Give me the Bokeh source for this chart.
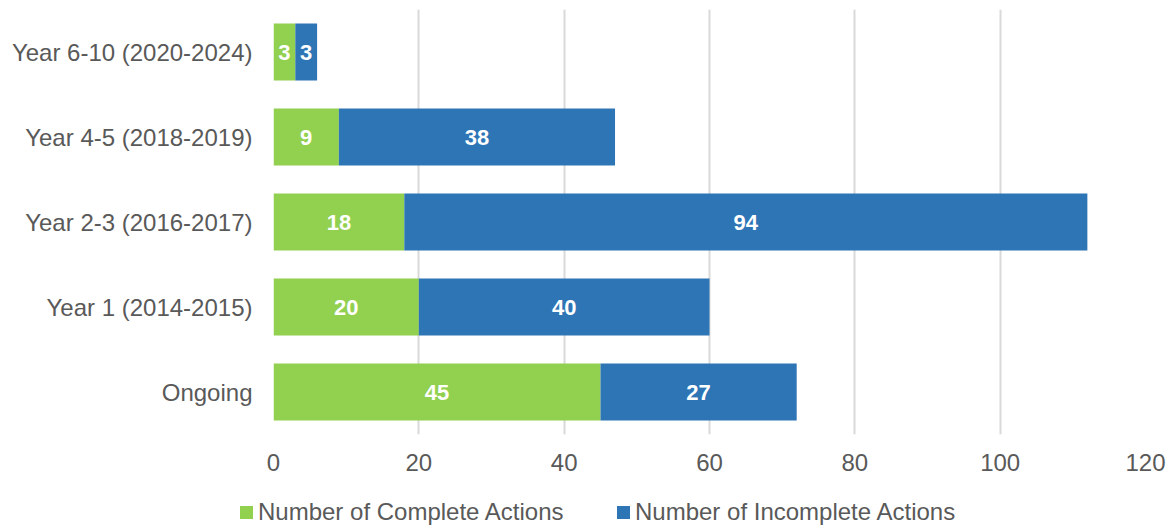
from bokeh.plotting import figure
from bokeh.layouts import column
from bokeh.models import ColumnDataSource, Range1d, FactorRange, FixedTicker, LabelSet, Div
from bokeh.core.properties import value
from bokeh.embed import file_html
from bokeh.resources import INLINE

categories = ["Ongoing", "Year 1 (2014-2015)", "Year 2-3 (2016-2017)",
              "Year 4-5 (2018-2019)", "Year 6-10 (2020-2024)"]
complete = [45, 20, 18, 9, 3]
incomplete = [27, 40, 94, 38, 3]
series_names = ["Number of Complete Actions", "Number of Incomplete Actions"]
colors = ["#92D050", "#2E75B6"]
x_ticks = [0, 20, 40, 60, 80, 100, 120]

FONT = "Liberation Sans"
GREY = "#595959"

src = ColumnDataSource(dict(
    cat=categories,
    complete=complete,
    incomplete=incomplete,
    c_mid=[c / 2 for c in complete],
    i_mid=[c + i / 2 for c, i in zip(complete, incomplete)],
    c_lbl=[str(c) for c in complete],
    i_lbl=[str(i) for i in incomplete],
))

p = figure(
    y_range=FactorRange(*categories),
    x_range=Range1d(0, 120),
    frame_width=872, frame_height=425,
    min_border_left=273, min_border_right=25, min_border_top=9, min_border_bottom=52,
    output_backend="svg", toolbar_location=None,
)
p.outline_line_color = None

renderers = p.hbar_stack(["complete", "incomplete"], y="cat", height=0.67,
                         color=colors, source=src, line_color=None)

for xcol, tcol in [("c_mid", "c_lbl"), ("i_mid", "i_lbl")]:
    lbl = LabelSet(x=xcol, y="cat", text=tcol, source=src,
                   text_align="center", text_baseline="middle",
                   text_color="white", text_font=value(FONT), text_font_style="bold",
                   text_font_size="22px")
    p.add_layout(lbl)

p.xaxis.ticker = FixedTicker(ticks=x_ticks)
p.xgrid.ticker = FixedTicker(ticks=x_ticks)
p.xgrid.grid_line_color = "#D9D9D9"
p.xgrid.grid_line_width = 2
p.ygrid.grid_line_color = None

for ax in (p.xaxis[0], p.yaxis[0]):
    ax.axis_line_color = None
    ax.major_tick_line_color = None
    ax.minor_tick_line_color = None
    ax.major_tick_out = 0
    ax.major_tick_in = 0
    ax.major_label_text_font = FONT
    ax.major_label_text_font_size = "24px"
    ax.major_label_text_color = GREY
p.yaxis.major_label_standoff = 21
p.xaxis.major_label_standoff = 19

# legend strip (HTML) below the chart
legend_left = [240, 617]
items_html = ""
for name, col, lx in zip(series_names, colors, legend_left):
    items_html += (
        f'<div style="position:absolute;left:{lx}px;top:20px;width:13px;height:13px;'
        f'background:{col};"></div>'
        f'<div style="position:absolute;left:{lx + 18}px;top:14px;line-height:24px;'
        f'white-space:nowrap;">{name}</div>'
    )
legend_html = (
    f'<div style="position:relative;width:1170px;height:43px;margin:0;padding:0;'
    f"font-family:'{FONT}';font-size:24px;color:{GREY};\">{items_html}</div>"
)
leg = Div(text=legend_html, width=1170, height=43, margin=0)

layout = column(p, leg, spacing=0)
open("out.html", "w").write(file_html(layout, INLINE))
